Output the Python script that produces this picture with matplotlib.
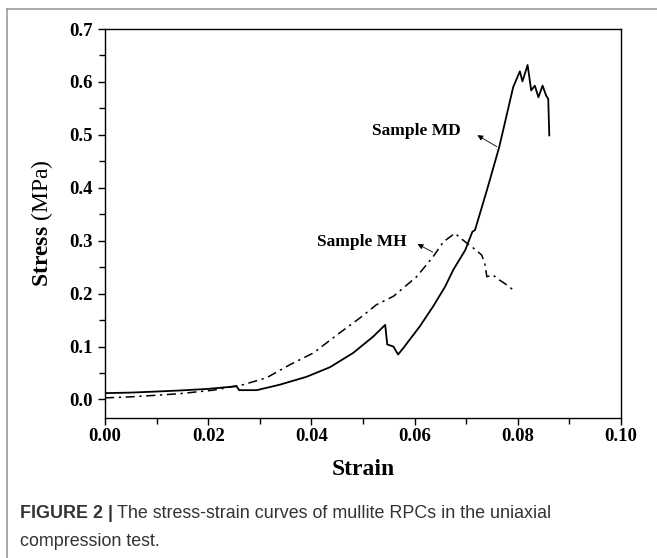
import matplotlib.pyplot as plt
from matplotlib.lines import Line2D
from matplotlib.ticker import MultipleLocator, FormatStrFormatter

# curve data
md_strain = [0.000, 0.005, 0.010, 0.0145, 0.020, 0.0255, 0.026, 0.0294, 0.0339, 0.0391,
             0.0436, 0.0481, 0.0520, 0.0543, 0.0547, 0.0559, 0.0568, 0.0578, 0.0610,
             0.0636, 0.0659, 0.0675, 0.0698, 0.0712, 0.0717, 0.0740, 0.0764, 0.0791, 0.0804,
             0.0809, 0.0819, 0.0826, 0.0833, 0.0840, 0.0848, 0.0855, 0.0859, 0.0861]
md_stress = [0.012, 0.013, 0.015, 0.017, 0.020, 0.025, 0.0176, 0.0176, 0.028, 0.043,
             0.061, 0.088, 0.119, 0.141, 0.104, 0.100, 0.085, 0.097, 0.138,
             0.176, 0.213, 0.245, 0.282, 0.317, 0.320, 0.395, 0.477, 0.590, 0.620,
             0.601, 0.632, 0.584, 0.593, 0.571, 0.593, 0.574, 0.568, 0.499]

mh_strain = [0.000, 0.005, 0.010, 0.0145, 0.021, 0.0268, 0.0313, 0.0359, 0.0404, 0.0455,
             0.0494, 0.0526, 0.0559, 0.0604, 0.0636, 0.0656, 0.0678, 0.0694, 0.0714, 0.0730,
             0.0736, 0.0740, 0.0752, 0.0764, 0.0778, 0.0791]
mh_stress = [0.003, 0.005, 0.008, 0.011, 0.0176, 0.028, 0.041, 0.066, 0.088, 0.126,
             0.154, 0.179, 0.195, 0.232, 0.270, 0.298, 0.314, 0.301, 0.286, 0.273,
             0.257, 0.232, 0.235, 0.226, 0.217, 0.207]

plt.rcParams['font.family'] = 'Liberation Serif'
plt.rcParams['mathtext.fontset'] = 'custom'
plt.rcParams['mathtext.rm'] = 'Liberation Serif'
plt.rcParams['mathtext.bf'] = 'Liberation Serif:bold'

fig = plt.figure(figsize=(6.57, 5.58), dpi=100)
ax = fig.add_axes([105/657, 1-418/558, 516/657, 389/558])

ax.plot(md_strain, md_stress, color='k', lw=1.3)
ax.plot(mh_strain, mh_stress, color='k', lw=1.1, dashes=(6, 3, 1.5, 3))

ax.set_xlim(0, 0.10)
ax.set_ylim(-0.035, 0.70)
ax.xaxis.set_major_locator(MultipleLocator(0.02))
ax.xaxis.set_minor_locator(MultipleLocator(0.01))
ax.yaxis.set_major_locator(MultipleLocator(0.1))
ax.yaxis.set_minor_locator(MultipleLocator(0.05))
ax.xaxis.set_major_formatter(FormatStrFormatter('%.2f'))
ax.yaxis.set_major_formatter(FormatStrFormatter('%.1f'))
ax.tick_params(which='major', direction='out', length=5, width=1, labelsize=13.5)
ax.tick_params(axis='x', which='major', pad=2)
ax.tick_params(axis='y', which='major', pad=4)
ax.tick_params(which='minor', direction='out', length=4, width=1)
for lab in ax.get_xticklabels() + ax.get_yticklabels():
    lab.set_fontweight('bold')
for s in ax.spines.values():
    s.set_linewidth(1)

ax.set_xlabel('Strain', fontsize=17, fontweight='bold', labelpad=10)
ax.set_ylabel(r'$\mathbf{Stress}$ (MPa)', fontsize=17, labelpad=10)

# annotations
ax.text(0.0604, 0.508, 'Sample MD', fontsize=12.5, fontweight='bold', ha='center', va='center')
ax.annotate('', xy=(0.0717, 0.502), xytext=(0.0764, 0.475),
            arrowprops=dict(arrowstyle='-|>', color='k', lw=0.6, mutation_scale=8))
ax.text(0.0497, 0.298, 'Sample MH', fontsize=12.5, fontweight='bold', ha='center', va='center')
ax.annotate('', xy=(0.0601, 0.296), xytext=(0.0640, 0.276),
            arrowprops=dict(arrowstyle='-|>', color='k', lw=0.6, mutation_scale=8))

# outer frame (top and left edges)
fig.add_artist(Line2D([7/657, 1.0], [1-9/558, 1-9/558], color='#999999', lw=1.2))
fig.add_artist(Line2D([7/657, 7/657], [1-9/558, 0.0], color='#999999', lw=1.2))

# caption
cap_col = '#333333'
t1 = fig.text(20/657, 1-514/558, 'FIGURE 2 |', family='Liberation Sans', fontweight='bold',
              fontsize=12.9, color=cap_col, va='center')
fig.canvas.draw()
bb = t1.get_window_extent()
fig.text((bb.x1 + 4)/657, 1-514/558, 'The stress-strain curves of mullite RPCs in the uniaxial',
         family='Liberation Sans', fontsize=12.9, color=cap_col, va='center')
fig.text(20/657, 1-541/558, 'compression test.', family='Liberation Sans', fontsize=12.9,
         color=cap_col, va='center')

fig.savefig('out.png', dpi=100)
